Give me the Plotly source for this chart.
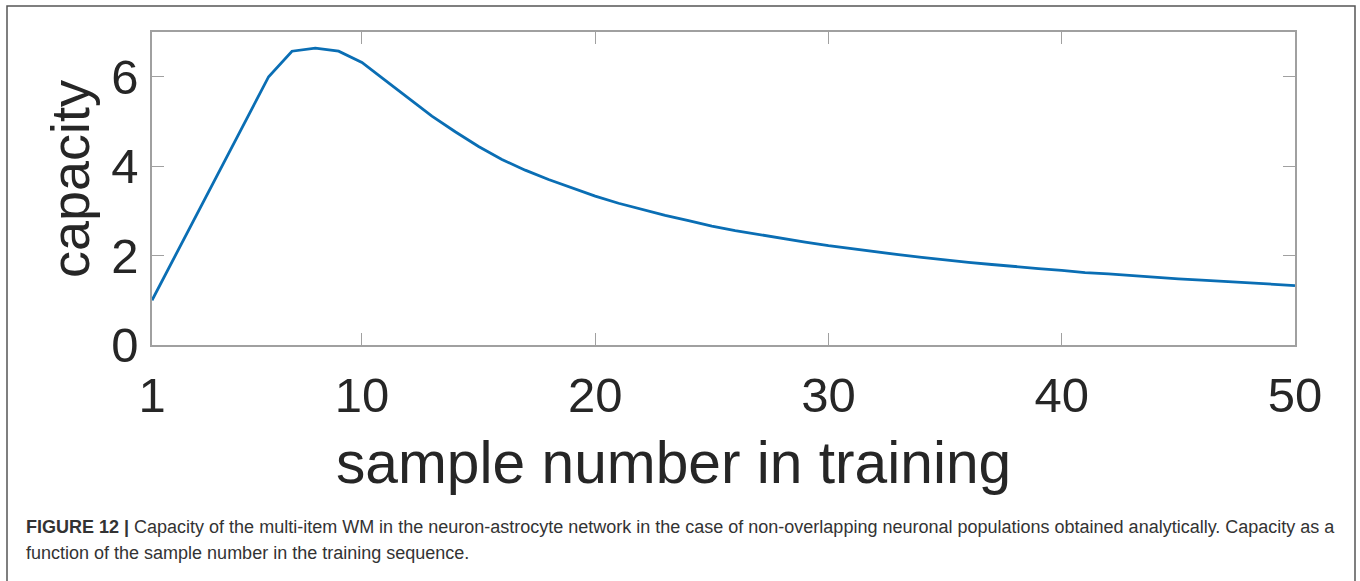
import plotly.graph_objects as go

# Capacity of the multi-item WM versus the sample number in the training sequence
sample_number = list(range(1, 51))
capacity = [
    1.00, 2.00, 3.00, 4.00, 5.00, 6.00, 6.57, 6.64, 6.57, 6.32,
    5.92, 5.52, 5.12, 4.77, 4.44, 4.15, 3.91, 3.70, 3.51, 3.33,
    3.17, 3.03, 2.90, 2.78, 2.66, 2.56, 2.47, 2.38, 2.30, 2.22,
    2.15, 2.08, 2.02, 1.96, 1.90, 1.85, 1.80, 1.75, 1.71, 1.67,
    1.62, 1.59, 1.55, 1.51, 1.48, 1.45, 1.42, 1.39, 1.36, 1.33,
]
x_ticks = [1, 10, 20, 30, 40, 50]
y_ticks = [0, 2, 4, 6]

caption_line1 = ("<b>FIGURE 12 |</b> Capacity of the multi-item WM in the neuron-astrocyte network "
                 "in the case of non-overlapping neuronal populations obtained analytically. Capacity as a")
caption_line2 = "function of the sample number in the training sequence."

W, H = 1360, 581
L, R, T, B = 152, 65, 32, 236
plot_w = W - L - R
plot_h = H - T - B


def px_x(p):
    return (p - L) / plot_w


def px_y(p):
    return (H - B - p) / plot_h


fig = go.Figure()
fig.add_trace(go.Scatter(
    x=sample_number, y=capacity, mode="lines",
    line=dict(color="#0a6eb4", width=2.8),
    showlegend=False, hoverinfo="x+y",
))

axis_font = dict(family="Liberation Sans, Arial, sans-serif", size=49, color="#262626")

fig.update_xaxes(
    range=[1, 50], tickvals=x_ticks, ticktext=[str(v) for v in x_ticks],
    showgrid=False, zeroline=False,
    showline=True, linecolor="#a0a0a0", linewidth=1.5, mirror="ticks",
    ticks="inside", ticklen=12, tickcolor="#a0a0a0", tickwidth=1.2,
    tickfont=axis_font, ticklabelstandoff=6,
)
fig.update_yaxes(
    range=[0, 7], tickvals=y_ticks, ticktext=[str(v) for v in y_ticks],
    showgrid=False, zeroline=False,
    showline=True, linecolor="#a0a0a0", linewidth=1.5, mirror="ticks",
    ticks="inside", ticklen=12, tickcolor="#a0a0a0", tickwidth=1.2,
    tickfont=axis_font, ticklabelstandoff=2,
)

# Axis titles
fig.add_annotation(
    text="sample number in training", xref="paper", yref="paper",
    x=px_x(673), y=px_y(462), xanchor="center", yanchor="middle",
    showarrow=False, font=dict(family="Liberation Sans, Arial, sans-serif", size=58.7, color="#262626"),
)
fig.add_annotation(
    text="capacity", xref="paper", yref="paper",
    x=px_x(70), y=px_y(179), xanchor="center", yanchor="middle", textangle=-90,
    showarrow=False, font=dict(family="Liberation Sans, Arial, sans-serif", size=54, color="#262626"),
)

# Caption below the chart
cap_font = dict(family="Liberation Sans, Arial, sans-serif", size=18.0, color="#333333")
fig.add_annotation(
    text=caption_line1, xref="paper", yref="paper",
    x=px_x(24), y=px_y(527), xanchor="left", yanchor="middle",
    showarrow=False, font=cap_font,
)
fig.add_annotation(
    text=caption_line2, xref="paper", yref="paper",
    x=px_x(24), y=px_y(553), xanchor="left", yanchor="middle",
    showarrow=False, font=cap_font,
)

# Frame around the figure panel
fig.add_shape(
    type="rect", xref="paper", yref="paper",
    x0=px_x(7), x1=px_x(1355), y0=px_y(600), y1=px_y(6),
    line=dict(color="#555555", width=1.5), fillcolor="rgba(0,0,0,0)", layer="below",
)

fig.update_layout(
    width=W, height=H,
    margin=dict(l=L, r=R, t=T, b=B),
    paper_bgcolor="white", plot_bgcolor="white",
)

fig.write_html("out.html")
